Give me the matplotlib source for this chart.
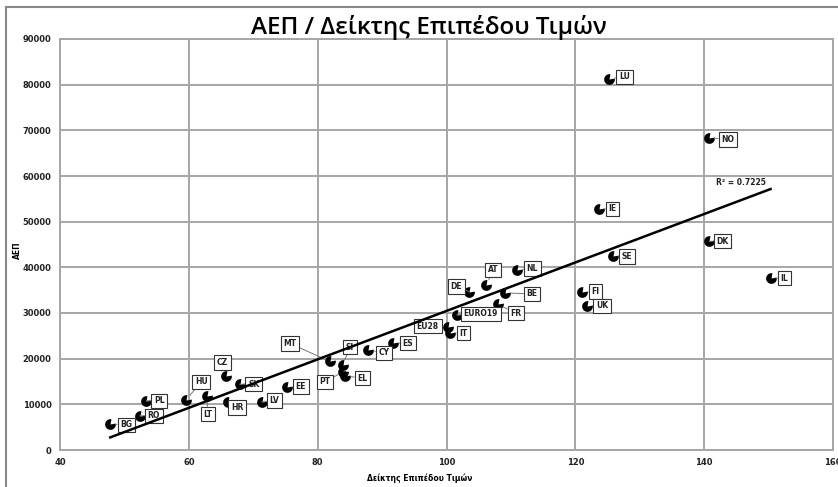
import numpy as np
import matplotlib
matplotlib.use("Agg")
import matplotlib.pyplot as plt
from matplotlib.path import Path
from matplotlib.lines import Line2D

countries = ["BG", "RO", "PL", "HU", "LT", "CZ", "HR", "SK", "LV", "EE",
             "MT", "SI", "PT", "EL", "CY", "ES", "EU28", "IT", "EURO19", "FR",
             "DE", "AT", "BE", "NL", "FI", "UK", "SE", "IE", "LU", "DK", "NO", "IL"]
price_index = [47.8, 52.4, 53.4, 59.6, 62.8, 65.7, 66.1, 67.9, 71.3, 75.2,
               81.9, 83.9, 83.9, 84.3, 87.8, 91.7, 100.2, 100.6, 101.6, 108.0,
               103.5, 106.2, 109.1, 111.0, 121.1, 121.8, 125.8, 123.6, 125.3, 140.8, 140.7, 150.3]
gdp = [5700, 7500, 10800, 11000, 11800, 16100, 10600, 14400, 10600, 13700,
       19400, 18600, 17100, 16200, 21900, 23400, 26900, 25600, 29600, 31900,
       34700, 36200, 34400, 39500, 34500, 31600, 42400, 52800, 81300, 45700, 68400, 37600]

# label offsets in pixels (dx right, dy down)
label_dx = [16, 14, 13, 15, 1, -3, 9, 14, 13, 14,
            -40, 7, -18, 17, 16, 15, -20, 13, 24, 18,
            -13, 7, 27, 15, 13, 15, 14, 14, 15, 13, 19, 14]
label_dy = [1, 0, 0, -18, 18, -14, 6, 0, -1, -1,
            -18, -18, 10, 2, 3, 0, -1, 0, -1, 9,
            -5, -15, 1, -1, -1, 0, 0, 0, -2, 0, 2, 0]

trend_x = [47.8, 150.3]
r2_text = "R² = 0.7225"

W, H = 838, 487
fig = plt.figure(figsize=(W / 100, H / 100), dpi=100)
ax = fig.add_axes([60 / W, 1 - 450 / H, (833 - 60) / W, (450 - 39) / H])

ax.set_xlim(40, 160)
ax.set_ylim(0, 90000)
ax.set_xticks(np.arange(40, 161, 20))
ax.set_yticks(np.arange(0, 90001, 10000))
ax.grid(True, color="#a6a6a6", lw=1.4, zorder=0)
for s in ax.spines.values():
    s.set_color("#a6a6a6")
    s.set_linewidth(1.4)
ax.tick_params(length=0, labelsize=6, pad=6, labelcolor="#222222")
for lab in ax.get_xticklabels() + ax.get_yticklabels():
    lab.set_fontweight("bold")
    lab.set_fontfamily(["Liberation Sans Narrow", "DejaVu Sans"])
ax.set_axisbelow(True)

marker = Path.wedge(80, 370)
ax.scatter(price_index, gdp, marker=marker, s=60, color="black", zorder=3, linewidths=0)

for c, x, y, dx, dy in zip(countries, price_index, gdp, label_dx, label_dy):
    ax.annotate(c, (x, y), xytext=(dx * 0.72, -dy * 0.72), textcoords="offset points",
                ha="center", va="center", fontsize=5.5, fontweight="bold",
                family=["Liberation Sans Narrow", "DejaVu Sans"], color="#222222",
                bbox=dict(boxstyle="square,pad=0.35", fc="white", ec="#333333", lw=0.8),
                arrowprops=dict(arrowstyle="-", color="#777777", lw=0.7, shrinkA=0, shrinkB=4),
                zorder=4)

# linear trendline
coef = np.polyfit(price_index, gdp, 1)
tx = np.array(trend_x)
ax.plot(tx, np.polyval(coef, tx), color="black", lw=1.8, zorder=5)
ax.text(141.8, 58600, r2_text, fontsize=5.5, fontweight="bold",
        family=["Liberation Sans Narrow", "DejaVu Sans"], color="#222222", ha="left", va="center")

fig.text(429 / W, 1 - 27 / H, "ΑΕΠ / Δείκτης Επιπέδου Τιμών", ha="center", va="center",
         fontsize=17.5, family=["Open Sans", "DejaVu Sans"], fontweight="semibold")
fig.text(17 / W, 1 - 250 / H, "ΑΕΠ", rotation=90, ha="center", va="center", fontsize=5.5,
         fontweight="bold", family=["Liberation Sans Narrow", "DejaVu Sans"])
fig.text(420 / W, 1 - 478 / H, "Δείκτης Επιπέδου Τιμών", ha="center", va="center", fontsize=5.5,
         fontweight="bold", family=["Liberation Sans Narrow", "DejaVu Sans"])

# outer frame lines (top and left)
fig.add_artist(Line2D([6 / W, 1], [1 - 7 / H, 1 - 7 / H], color="#888888", lw=1.5))
fig.add_artist(Line2D([6 / W, 6 / W], [0, 1 - 7 / H], color="#888888", lw=1.5))

fig.savefig("out.png", dpi=100)
